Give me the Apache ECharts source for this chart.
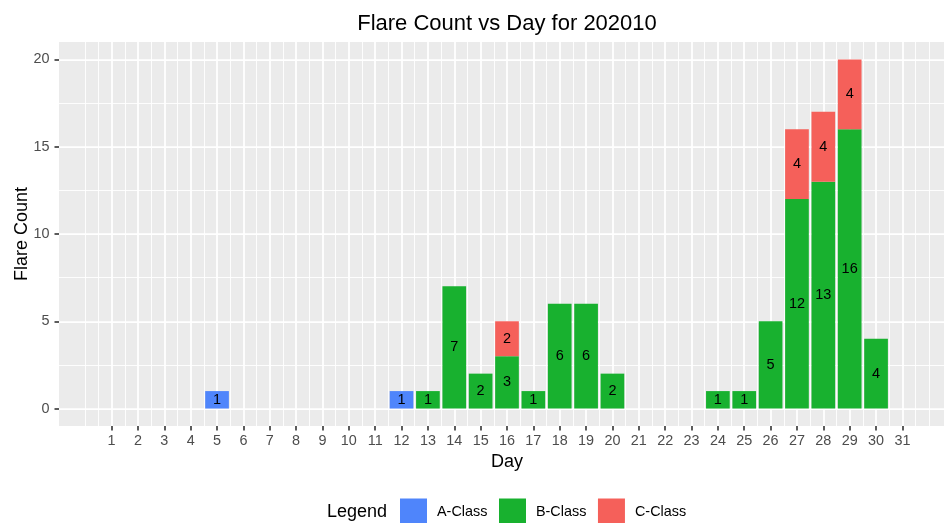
<!DOCTYPE html>
<html>
<head>
<meta charset="utf-8">
<script src="https://cdn.jsdelivr.net/npm/echarts@6/dist/echarts.min.js"></script>
<style>html,body{margin:0;padding:0;background:#fff;overflow:hidden;}#c{width:960px;height:523px;}</style>
</head>
<body>
<div id="c"></div>
<script>
var days = [1,2,3,4,5,6,7,8,9,10,11,12,13,14,15,16,17,18,19,20,21,22,23,24,25,26,27,28,29,30,31];
var aClass = [0,0,0,0,1,0,0,0,0,0,0,1,0,0,0,0,0,0,0,0,0,0,0,0,0,0,0,0,0,0,0];
var bClass = [0,0,0,0,0,0,0,0,0,0,0,0,1,7,2,3,1,6,6,2,0,0,0,1,1,5,12,13,16,4,0];
var cClass = [0,0,0,0,0,0,0,0,0,0,0,0,0,0,0,2,0,0,0,0,0,0,0,0,0,0,4,4,4,0,0];
var yTicks = [0,5,10,15,20];
var seriesNames = ['A-Class','B-Class','C-Class'];

var FONT = 'Liberation Sans, Arial, sans-serif';
var colors = ['#4F85FB','#18B12F','#F5605A'];

// [count, day] so that the count dimension is the stacked one
function pairs(vals){
  var out = [];
  for (var i = 0; i < days.length; i++) {
    out.push([vals[i] > 0 ? vals[i] : null, days[i]]);
  }
  return out;
}

// gridline positions (ggplot major/minor breaks)
var xMajor = days.slice();
var xMinor = [];
for (var i = 0; i <= 64; i++) { var v = i / 2; if (xMajor.indexOf(v) < 0) xMinor.push(v); }
var yMinor = [2.5, 7.5, 12.5, 17.5];

function gridLines(arr, axisKey, width){
  return arr.map(function(v){ var o = {}; o[axisKey] = v; o.lineStyle = {width: width}; return o; });
}

var chart = echarts.init(document.getElementById('c'), null, {renderer: 'canvas'});
var allVals = [aClass, bClass, cClass];
var series = [{
  type: 'line', name: '__grid', data: [], z: 1, silent: true,
  markLine: {
    z: 1, silent: true, symbol: 'none', animation: false,
    label: {show: false},
    emphasis: {disabled: true},
    lineStyle: {color: '#ffffff', type: 'solid'},
    data: [].concat(
      gridLines(xMinor, 'xAxis', 0.9),
      gridLines(yMinor, 'yAxis', 0.9),
      gridLines(xMajor, 'xAxis', 1.75),
      gridLines(yTicks, 'yAxis', 1.75)
    )
  }
}];
seriesNames.forEach(function(n, k){
  series.push({
    type: 'bar', name: n, stack: 'total', z: 3,
    barWidth: 23.7,
    encode: {x: 1, y: 0},
    itemStyle: {color: colors[k]},
    label: {
      show: true, position: 'inside', color: '#000', fontFamily: FONT, fontSize: 14.5,
      formatter: function(p){ return p.value[0]; }
    },
    data: pairs(allVals[k])
  });
});

chart.setOption({
  animation: false,
  backgroundColor: '#ffffff',
  textStyle: {fontFamily: FONT},
  title: {
    text: 'Flare Count vs Day for 202010',
    left: 502, top: 8, textAlign: 'center',
    textStyle: {fontFamily: FONT, fontSize: 22, fontWeight: 'normal', color: '#000'}
  },
  graphic: [{
    type: 'text', left: 327, top: 503,
    style: {text: 'Legend', font: '18px ' + FONT, fill: '#000'}
  }],
  legend: {
    data: seriesNames,
    left: 400, top: 498.5, padding: 0,
    itemWidth: 27, itemHeight: 27, itemGap: 11.6,
    icon: 'rect',
    textStyle: {fontFamily: FONT, fontSize: 14.4, color: '#000', padding: [0,0,0,5]},
    selectedMode: false
  },
  grid: {
    left: 59, width: 896, top: 42, height: 384,
    outerBoundsMode: 'none', containLabel: false,
    show: true, backgroundColor: '#EBEBEB', borderWidth: 0
  },
  xAxis: {
    type: 'value', min: -0.995, max: 32.995,
    name: 'Day', nameLocation: 'middle', nameGap: 27, nameMoveOverlap: false,
    nameTextStyle: {fontFamily: FONT, fontSize: 18, color: '#000'},
    axisLine: {show: false, onZero: false},
    axisTick: {show: true, customValues: days, length: 4.5, lineStyle: {color: '#333', width: 1.6}},
    axisLabel: {customValues: days, margin: 8, fontFamily: FONT, fontSize: 14.4, color: '#4D4D4D'},
    splitLine: {show: false}
  },
  yAxis: {
    type: 'value', min: -1, max: 21,
    name: 'Flare Count', nameLocation: 'middle', nameGap: 27.5, nameRotate: 90, nameMoveOverlap: false,
    nameTextStyle: {fontFamily: FONT, fontSize: 18, color: '#000'},
    axisLine: {show: false, onZero: false},
    axisTick: {show: true, customValues: yTicks, length: 4.5, lineStyle: {color: '#333', width: 1.6}},
    axisLabel: {customValues: yTicks, margin: 9.5, fontFamily: FONT, fontSize: 14.4, color: '#4D4D4D'},
    splitLine: {show: false}
  },
  series: series
});
</script>
</body>
</html>
